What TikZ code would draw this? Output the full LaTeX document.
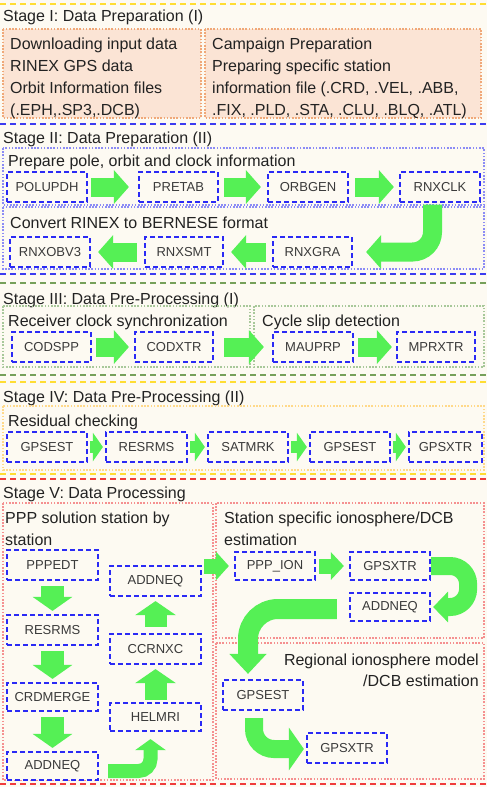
\documentclass[tikz,border=0pt]{standalone}
\usepackage{fontspec}
\setmainfont{Liberation Sans}
\usetikzlibrary{arrows.meta,calc}
\definecolor{bgc}{HTML}{FDFAF2}
\definecolor{peach}{HTML}{FBE4D5}
\definecolor{agreen}{HTML}{55F055}
\definecolor{nblue}{HTML}{2A2AF5}
\definecolor{sYellow}{HTML}{FFDD33}
\definecolor{sBlue}{HTML}{3C3CF0}
\definecolor{sGreen}{HTML}{76A05A}
\definecolor{sRed}{HTML}{F03C3C}
\definecolor{dOrange}{HTML}{F0A878}
\definecolor{dBlue}{HTML}{8C8CF5}
\definecolor{dGreen}{HTML}{A8C89A}
\definecolor{dYellow}{HTML}{FFD98A}
\definecolor{dRed}{HTML}{F59090}
\definecolor{txt}{HTML}{222222}
\definecolor{btxt}{HTML}{3A3A3A}
\begin{document}
\begin{tikzpicture}[x=1pt,y=-1pt,
  stageline/.style={line width=2.6pt, dash pattern=on 6pt off 4pt},
  grp/.style={line width=1.6pt, dash pattern=on 1.6pt off 1.6pt},
  proc/.style={draw=nblue, line width=2.2pt, dash pattern=on 5pt off 3pt, fill=bgc,
    minimum width=80pt, minimum height=30pt, inner sep=0pt, text=btxt,
    font=\fontsize{13}{13}\selectfont},
  ttl/.style={anchor=west, inner sep=0pt, text=txt, font=\fontsize{16}{18}\selectfont},
  para/.style={anchor=north west, align=left, inner sep=0pt, text=txt, font=\fontsize{16}{22}\selectfont},
  garr/.style n args={3}{draw=agreen, line width=#1, -{Triangle[length=#2,width=#3]}}
]
\useasboundingbox (0,0) rectangle (487,787);
\fill[bgc] (0,0) rectangle (487,787);

% ---------------- Stage I
\draw[stageline, sYellow] (0,4) -- (487,4);
\node[ttl] (t1) at (3,17) {Stage I: Data Preparation (I)};
\draw[grp, draw=dOrange, fill=peach] (3,29) rectangle (201,118);
\draw[grp, draw=dOrange, fill=peach] (205,29) rectangle (481,118);
\node[para] (s1a) at (10,38) {Downloading input data\\RINEX GPS data\\Orbit Information files\\(.EPH,.SP3,.DCB)};
\node[para] (s1b) at (212,38) {Campaign Preparation\\Preparing specific station\\information file (.CRD, .VEL, .ABB,\\.FIX, .PLD, .STA, .CLU, .BLQ, .ATL)};

% ---------------- Stage II
\draw[stageline, sBlue] (0,124) -- (487,124);
\node[ttl] (t2) at (3,139) {Stage II: Data Preparation (II)};
\draw[grp, dBlue] (3,148) rectangle (484,205);
\draw[grp, dBlue] (3,207) rectangle (484,269);
\draw[stageline, sBlue] (0,274) -- (487,274);
\node[ttl] (g2a) at (8,162) {Prepare pole, orbit and clock information};
\node[ttl] (g2b) at (10,223) {Convert RINEX to BERNESE format};
\node[proc] (polupdh) at (47,187) {POLUPDH};
\node[proc, minimum width=79pt] (pretab) at (178.5,187) {PRETAB};
\node[proc] (orbgen) at (308,187) {ORBGEN};
\node[proc] (rnxclk) at (440,187) {RNXCLK};
\node[proc] (rnxobv) at (50,252) {RNXOBV3};
\node[proc, minimum width=78pt] (rnxsmt) at (184,252) {RNXSMT};
\node[proc, minimum width=79pt] (rnxgra) at (312.5,252) {RNXGRA};
\draw[garr={19pt}{15pt}{33pt}, shorten <=3pt, shorten >=9pt] (polupdh) -- (pretab);
\draw[garr={19pt}{15pt}{33pt}, shorten <=5pt, shorten >=6pt] (pretab) -- (orbgen);
\draw[garr={19pt}{15pt}{33pt}, shorten <=6pt, shorten >=5pt] (orbgen) -- (rnxclk);
\draw[garr={19pt}{15pt}{33pt}, rounded corners=20pt] ($(rnxclk.south)+(-7.5,1.5)$) |- ($(rnxgra.east)+(13,0)$);
\draw[garr={19pt}{15pt}{33pt}, shorten <=6pt, shorten >=7pt] (rnxgra) -- (rnxsmt);
\draw[garr={19pt}{15pt}{33pt}, shorten <=7pt, shorten >=7pt] (rnxsmt) -- (rnxobv);

% ---------------- Stage III
\draw[stageline, sGreen] (0,283) -- (487,283);
\node[ttl] (t3) at (3,300) {Stage III: Data Pre-Processing (I)};
\draw[grp, dGreen] (3,306) rectangle (250,367);
\draw[grp, dGreen] (254,306) rectangle (484,367);
\node[ttl] (g3a) at (8,322) {Receiver clock synchronization};
\node[ttl] (g3b) at (262,322) {Cycle slip detection};
\node[proc, minimum width=79pt] (codspp) at (51.5,347) {CODSPP};
\node[proc, minimum width=78pt] (codxtr) at (174,347) {CODXTR};
\node[proc] (mauprp) at (313,347) {MAUPRP};
\node[proc, minimum width=78pt] (mprxtr) at (436,347) {MPRXTR};
\draw[garr={19pt}{15pt}{33pt}, shorten <=4pt, shorten >=5pt] (codspp) -- (codxtr);
\draw[garr={19pt}{15pt}{33pt}, shorten <=10pt, shorten >=8pt] (codxtr) -- (mauprp);
\draw[garr={19pt}{15pt}{33pt}, shorten <=4pt, shorten >=4pt] (mauprp) -- (mprxtr);
\draw[stageline, sGreen] (0,375) -- (487,375);

% ---------------- Stage IV
\draw[stageline, sYellow] (0,382) -- (487,382);
\node[ttl] (t4) at (3,398) {Stage IV: Data Pre-Processing (II)};
\draw[grp, dYellow] (3,406) rectangle (484,470);
\node[ttl] (g4) at (8,422) {Residual checking};
\node[proc] (gpsest1) at (47,447) {GPSEST};
\node[proc, minimum width=81pt] (resrms1) at (146.5,447) {RESRMS};
\node[proc] (satmrk) at (248,447) {SATMRK};
\node[proc] (gpsest2) at (350,447) {GPSEST};
\node[proc, minimum width=73pt] (gpsxtr1) at (445.5,447) {GPSXTR};
\draw[garr={12pt}{10pt}{28pt}, shorten <=2pt, shorten >=2pt] (gpsest1) -- (resrms1);
\draw[garr={12pt}{10pt}{28pt}, shorten <=2pt, shorten >=2pt] (resrms1) -- (satmrk);
\draw[garr={12pt}{10pt}{28pt}, shorten <=2pt, shorten >=2pt] (satmrk) -- (gpsest2);
\draw[garr={12pt}{10pt}{28pt}, shorten <=2pt, shorten >=2pt] (gpsest2) -- (gpsxtr1);
\draw[stageline, sYellow] (0,474) -- (487,474);

% ---------------- Stage V
\draw[stageline, sRed] (0,479) -- (487,479);
\node[ttl] (t5) at (3,494) {Stage V: Data Processing};
\draw[grp, dRed] (3,503) rectangle (213,780);
\draw[grp, dRed] (216,503) rectangle (484,638);
\draw[grp, dRed] (216,643) rectangle (484,779);
\draw[stageline, sRed] (0,784) -- (487,784);
\node[para] (g5a) at (5,512) {PPP solution station by\\station};
\node[para] (g5b) at (224,512) {Station specific ionosphere/DCB\\estimation};
\node[para, anchor=north east, align=right, font=\fontsize{16}{21}\selectfont] (g5c) at (479,654) {Regional ionosphere model\\/DCB estimation};

\node[proc, minimum width=91pt] (pppedt) at (52.5,565) {PPPEDT};
\node[proc, minimum width=91pt] (resrms2) at (52.5,630) {RESRMS};
\node[proc, minimum width=91pt, minimum height=28pt] (crdmerge) at (52.5,697) {CRDMERGE};
\node[proc, minimum width=91pt, minimum height=28pt] (addneq1) at (52.5,766) {ADDNEQ};
\node[proc, minimum width=91pt] (addneq2) at (155.5,581) {ADDNEQ};
\node[proc, minimum width=91pt] (ccrnxc) at (155.5,649) {CCRNXC};
\node[proc, minimum width=91pt, minimum height=28pt] (helmri) at (155.5,717) {HELMRI};
\draw[garr={23pt}{14pt}{39pt}, shorten <=5pt, shorten >=3pt] (pppedt) -- (resrms2);
\draw[garr={23pt}{14pt}{39pt}, shorten <=5pt, shorten >=3pt] (resrms2) -- (crdmerge);
\draw[garr={23pt}{14pt}{39pt}, shorten <=5pt, shorten >=3pt] (crdmerge) -- (addneq1);
\draw[garr={22pt}{14pt}{40pt}, shorten <=2pt, shorten >=4pt] (helmri) -- (ccrnxc);
\draw[garr={22pt}{14pt}{40pt}, shorten <=6pt, shorten >=4pt] (ccrnxc) -- (addneq2);
\draw[garr={14pt}{11pt}{30pt}, rounded corners=12pt] ($(addneq1.east)+(9,5)$) -| ($(helmri.south)+(-5,7)$);

\node[proc, minimum height=28pt] (pppion) at (275,566) {PPP\_ION};
\node[proc, minimum height=28pt] (gpsxtr2) at (390,566) {GPSXTR};
\node[proc, minimum height=28pt] (addneq3) at (390,607) {ADDNEQ};
\node[proc] (gpsest3) at (263,695) {GPSEST};
\node[proc] (gpsxtr3) at (347,748) {GPSXTR};
\coordinate (fromleft) at (204,566);
\draw[garr={15pt}{13pt}{28pt}, shorten >=5pt] (fromleft) -- (pppion.west);
\draw[garr={15pt}{13pt}{27pt}, shorten <=3pt, shorten >=5pt] (pppion) -- (gpsxtr2);
\draw[garr={18pt}{15pt}{30pt}, rounded corners=18pt] (gpsxtr2.east) -- ++(37,0) |- ($(addneq3.east)+(2,0)$);
\draw[garr={20pt}{20pt}{36pt}, rounded corners=30pt] ($(addneq3.west)+(-12,2)$) -| ($(gpsest3.north)+(-15,-5)$);
\draw[garr={18pt}{15pt}{42pt}, rounded corners=20pt] ($(gpsest3.south)+(-9,7)$) |- ($(gpsxtr3.west)+(-2,1)$);
\end{tikzpicture}
\end{document}
